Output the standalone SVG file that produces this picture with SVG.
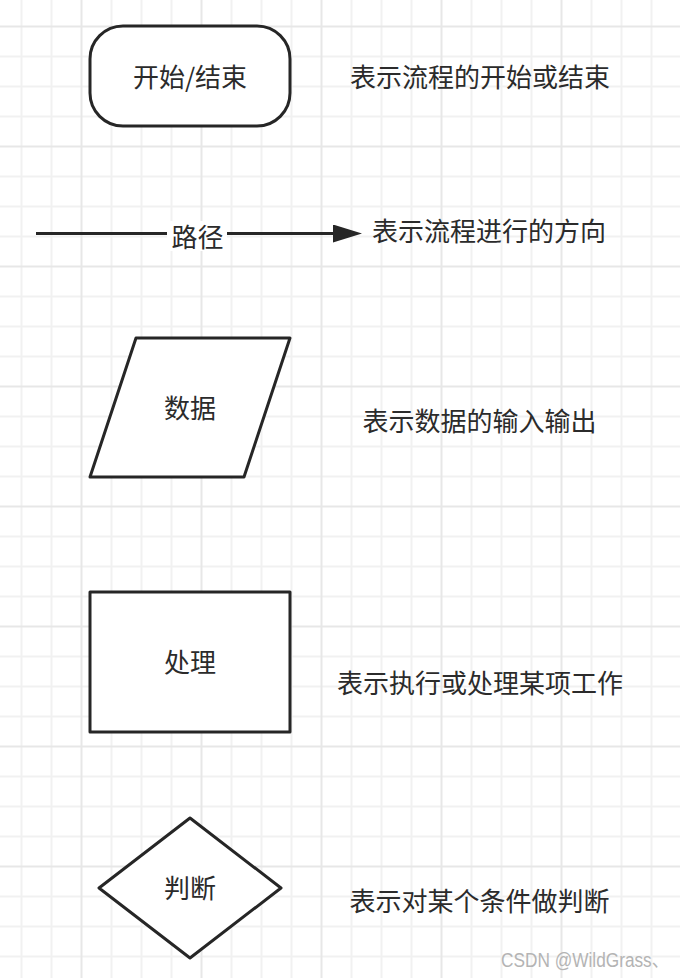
<svg xmlns="http://www.w3.org/2000/svg" width="680" height="978" viewBox="0 0 680 978">
  <style>
    .shape { fill: #ffffff; stroke: #262626; stroke-width: 3; stroke-linejoin: round; }
    .lbl { font-family: "Noto Sans CJK SC", "Noto Sans", sans-serif; font-size: 26px; fill: #2b2b2b; text-anchor: middle; dominant-baseline: central; }
    .edge { stroke: #262626; stroke-width: 3; fill: none; }
    .wm { font-family: "Liberation Sans", "Noto Sans CJK SC", sans-serif; font-size: 20px; fill: #b4b4b4; }
  </style>
  <defs>
    <pattern id="grid" patternUnits="userSpaceOnUse" x="6.5" y="11.5" width="120" height="120">
      <path d="M15 0V120M45 0V120M105 0V120M0 45H120M0 75H120M0 105H120" stroke="#f1f1f1" stroke-width="2" fill="none"/>
      <path d="M75 0V120M0 15H120" stroke="#e7e7e7" stroke-width="2" fill="none"/>
    </pattern>
    <marker id="arrow" viewBox="0 0 10 10" refX="0" refY="5" markerUnits="userSpaceOnUse" markerWidth="29" markerHeight="18" preserveAspectRatio="none" orient="auto">
      <path d="M0 0L10 5L0 10Z" fill="#262626"/>
    </marker>
  </defs>
  <rect width="680" height="978" fill="#ffffff"/>
  <rect width="680" height="978" fill="url(#grid)"/>

  <g id="connectors">
    <path class="edge" d="M36 233.5H333" marker-end="url(#arrow)"/>
    <rect x="167" y="221" width="60" height="30" fill="#ffffff"/>
    <text class="lbl" x="197.5" y="235">路径</text>
  </g>

  <g id="node-terminal">
    <rect class="shape" x="90" y="26" width="200" height="100" rx="33" ry="33"/>
    <text class="lbl" x="190" y="75.5">开始/结束</text>
  </g>
  <g id="desc-terminal">
    <text class="lbl" x="480" y="75.5">表示流程的开始或结束</text>
  </g>

  <g id="desc-path">
    <text class="lbl" x="489" y="229.5">表示流程进行的方向</text>
  </g>

  <g id="node-data">
    <polygon class="shape" points="136,338 290,338 244,477 90,477"/>
    <text class="lbl" x="190" y="406.5">数据</text>
  </g>
  <g id="desc-data">
    <text class="lbl" x="479.5" y="419.5">表示数据的输入输出</text>
  </g>

  <g id="node-process">
    <rect class="shape" x="90" y="592" width="200" height="140"/>
    <text class="lbl" x="190" y="660.5">处理</text>
  </g>
  <g id="desc-process">
    <text class="lbl" x="480" y="681.5">表示执行或处理某项工作</text>
  </g>

  <g id="node-decision">
    <polygon class="shape" points="190,818 281,888 190,958 99,888"/>
    <text class="lbl" x="190" y="886.5">判断</text>
  </g>
  <g id="desc-decision">
    <text class="lbl" x="479.5" y="899.5">表示对某个条件做判断</text>
  </g>

  <text class="wm" x="501" y="967" textLength="168" lengthAdjust="spacingAndGlyphs">CSDN @WildGrass、</text>
</svg>
